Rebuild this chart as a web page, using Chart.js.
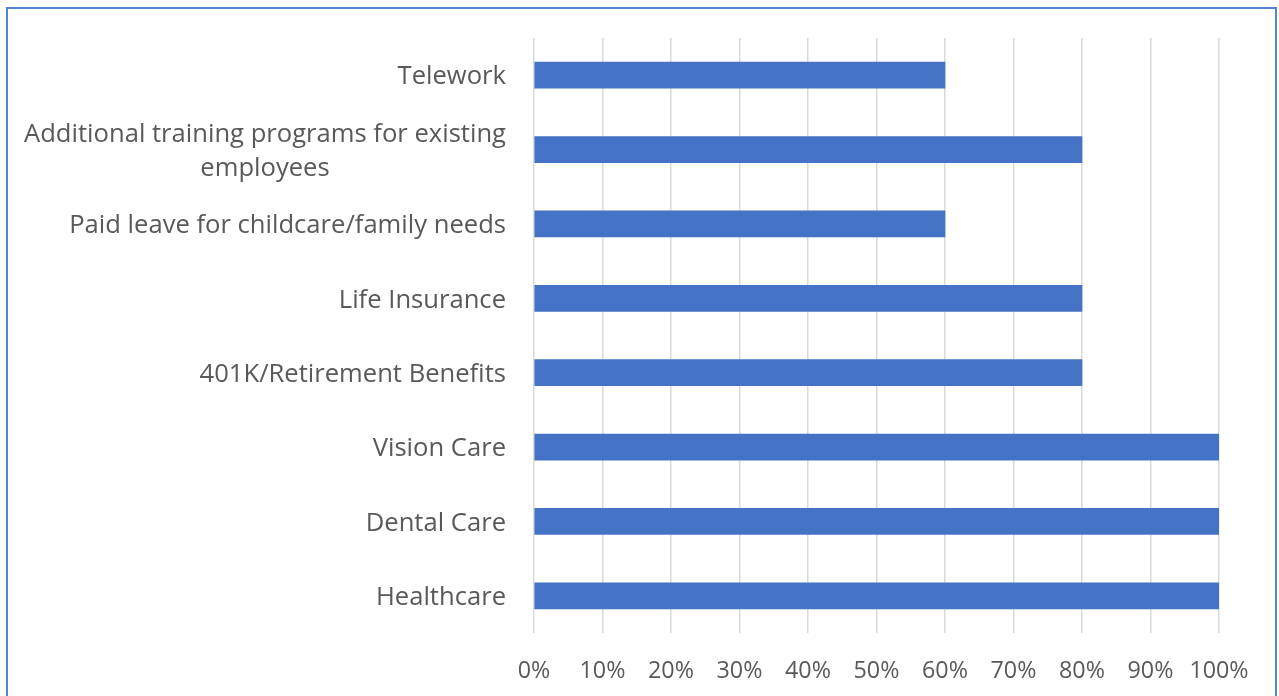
<!DOCTYPE html>
<html lang="en">
<head>
  <meta charset="UTF-8" />
  <title>Employee Benefits Offered</title>
  <style>
    html, body {
      margin: 0;
      padding: 0;
      background: #fff;
      overflow: hidden;
    }
    .frame {
      position: absolute;
      left: 6px;
      top: 7px;
      width: 1271px;
      height: 720px;
      border: 2px solid #5384d3;
      box-sizing: border-box;
    }
    #benefitsChart {
      position: absolute;
      left: 0;
      top: 0;
    }
  </style>
  <script src="https://cdn.jsdelivr.net/npm/chart.js"></script>
</head>
<body>

<div class="frame"></div>
<canvas id="benefitsChart" width="1279" height="696"></canvas>

<script>
  // Benefits, listed top to bottom
  const benefits = [
    "Telework",
    ["Additional training programs for existing", "employees"],
    "Paid leave for childcare/family needs",
    "Life Insurance",
    "401K/Retirement Benefits",
    "Vision Care",
    "Dental Care",
    "Healthcare"
  ];
  // Share of employers offering each benefit (%)
  const offered = [60, 80, 60, 80, 80, 100, 100, 100];
  const pctTicks = [0, 10, 20, 30, 40, 50, 60, 70, 80, 90, 100];

  const FONT = "'Open Sans', sans-serif";
  const TEXT = "#595959";

  // category labels: block right-aligned, lines centred on each other
  const categoryLabels = {
    id: 'categoryLabels',
    afterDraw(chart) {
      const ctx = chart.ctx;
      const y = chart.scales.y;
      const right = y.right - 28;
      const lineH = 34;
      ctx.save();
      ctx.font = `25.6px ${FONT}`;
      ctx.fillStyle = TEXT;
      ctx.textAlign = 'center';
      ctx.textBaseline = 'middle';
      benefits.forEach((lab, i) => {
        const lines = Array.isArray(lab) ? lab : [lab];
        const w = Math.max(...lines.map(l => ctx.measureText(l).width));
        const cx = right - w / 2;
        const cy = y.getPixelForValue(i) + 2;
        const top = cy - (lines.length - 1) * lineH / 2;
        lines.forEach((l, k) => ctx.fillText(l, cx, top + k * lineH));
      });
      ctx.restore();
    }
  };

  const chart = new Chart(document.getElementById('benefitsChart'), {
    type: 'bar',
    data: {
      labels: benefits,
      datasets: [{
        data: offered,
        backgroundColor: '#4472c4',
        barThickness: 26
      }]
    },
    options: {
      indexAxis: 'y',
      responsive: false,
      animation: false,
      layout: { padding: { left: 0, top: 38, right: 60, bottom: 0 } },
      plugins: {
        legend: { display: false },
        tooltip: { enabled: false }
      },
      scales: {
        x: {
          min: 0,
          max: 100,
          afterBuildTicks: s => { s.ticks = pctTicks.map(v => ({ value: v })); },
          afterFit: s => { s.height = 63; },
          grid: { color: '#d9d9d9', lineWidth: 1.5, drawTicks: false },
          border: { display: false },
          ticks: {
            padding: 24,
            color: TEXT,
            font: { family: FONT, size: 23.3 },
            callback: v => v + '%'
          }
        },
        y: {
          afterFit: s => { s.width = 534; },
          grid: { display: false, drawTicks: false },
          border: { display: false },
          ticks: { display: false }
        }
      }
    },
    plugins: [categoryLabels]
  });
</script>

</body>
</html>
